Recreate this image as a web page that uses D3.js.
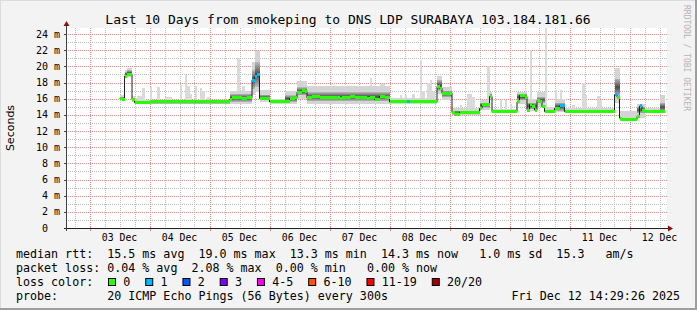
<!DOCTYPE html>
<html lang="en">
<head>
<meta charset="utf-8">
<script src="https://d3js.org/d3.v7.min.js"></script>
<style>
  body { margin: 0; background: #fff; }
  svg { display: block; }
  text { font-family: "DejaVu Sans Mono", monospace; fill: #000; white-space: pre; }
</style>
</head>
<body>
<svg id="chart" width="697" height="310"></svg>
<script>
// ---- data ----
const title = "Last 10 Days from smokeping to DNS LDP SURABAYA 103.184.181.66";
const graphStart = "12-02 15", graphEnd = "12-12 15", dataEnd = "12-12 14";

// median rtt steps (ms) and lost pings of each step
const medTime = ["12-03 12","12-03 13","12-03 14","12-03 15","12-03 17","12-03 18","12-04 00","12-05 08","12-05 09","12-05 11",
  "12-05 13","12-05 15","12-05 17","12-05 18","12-05 19","12-05 20","12-06 00","12-06 06","12-06 08","12-06 10",
  "12-06 11","12-06 13","12-06 14","12-06 15","12-06 17","12-06 20","12-07 04","12-07 05","12-07 08","12-07 10",
  "12-07 15","12-07 16","12-07 18","12-07 20","12-07 22","12-08 00","12-08 07","12-08 08","12-08 19","12-08 20",
  "12-08 21","12-09 01","12-09 02","12-09 04","12-09 12","12-09 13","12-09 16","12-09 17","12-10 03","12-10 04",
  "12-10 06","12-10 07","12-10 08","12-10 09","12-10 10","12-10 11","12-10 12","12-10 13","12-10 14","12-10 18",
  "12-10 20","12-10 22","12-11 18","12-11 19","12-11 20","12-11 21","12-12 03","12-12 04","12-12 05","12-12 06"];
const medVal = [16.0,15.9,18.8,19.0,15.9,15.5,15.6,15.9,16.1,16.2,
  16.0,16.1,18.3,18.7,19.0,16.0,15.6,15.7,16.0,16.1,
  16.8,17.0,16.9,16.1,16.3,16.1,16.0,16.1,16.3,16.1,
  16.0,16.1,15.9,16.3,16.2,15.6,15.6,15.6,17.5,17.3,
  16.7,14.3,14.1,14.3,14.8,15.3,16.3,14.4,15.6,16.4,
  16.2,14.6,15.3,15.0,14.6,15.8,15.6,15.0,14.4,14.8,
  15.1,14.4,16.5,16.2,13.6,13.4,13.8,15.1,14.6,14.4];
const medLoss = [0,0,0,0,0,0,0,0,0,0,
  0,0,1,1,1,0,0,0,0,0,
  0,0,0,0,0,0,0,0,0,0,
  0,0,0,0,0,0,1,0,0,0,
  0,0,0,0,0,0,0,0,0,0,
  0,0,0,0,0,0,0,0,0,0,
  1,0,1,0,0,0,0,1,0,0];

// smoke: lowest ping, dark band low/high, highest ping (ms)
const smokeTime = ["12-03 12","12-03 14","12-03 15","12-03 17","12-03 18","12-05 08","12-05 17","12-05 18","12-05 20","12-06 00",
  "12-06 06","12-06 11","12-06 15","12-08 00","12-08 19","12-08 21","12-09 01","12-09 12","12-09 16","12-09 17",
  "12-10 03","12-10 07","12-10 11","12-10 14","12-10 18","12-10 22","12-11 18","12-11 20","12-12 03","12-12 06","12-12 12"];
const smokeMin = [15.8,18.6,18.7,15.6,15.3,15.3,16.5,16.8,15.6,15.4,15.4,16.0,15.3,15.3,16.6,15.8,14.0,14.6,16.0,14.2,
  15.4,14.5,15.0,14.2,14.3,14.2,15.5,13.2,13.6,14.2,14.2];
const smokeLo = [15.9,18.8,18.9,15.7,15.4,15.6,17.2,17.5,15.8,15.5,15.6,16.4,15.7,15.5,17.0,16.2,14.2,14.9,16.2,14.3,
  15.8,14.7,15.5,14.3,14.5,14.3,16.3,13.3,14.2,14.3,14.4];
const smokeHi = [16.2,19.3,19.5,16.0,15.7,16.6,19.5,20.5,16.5,15.8,16.4,17.4,16.8,15.8,18.3,17.0,14.5,15.5,16.6,14.5,
  16.6,15.5,16.2,14.6,15.5,14.5,18.5,13.6,15.0,14.6,15.5];
const smokeMax = [16.4,19.5,19.8,16.3,15.9,17.0,20.5,21.9,17.1,16.0,17.0,18.2,17.6,16.1,18.8,17.4,14.8,15.8,16.8,14.7,
  16.8,16.0,16.8,15.0,16.0,14.8,19.8,14.5,15.4,14.9,16.5];

// single hours where the slowest ping sticks out (ms)
const spikeTime = ["12-03 19","12-03 20","12-03 21","12-04 00","12-04 03","12-04 06","12-04 07","12-04 08","12-04 12","12-04 14",
  "12-04 15","12-04 16","12-04 18","12-04 20","12-04 21","12-04 23","12-05 11","12-05 13","12-07 16","12-07 20",
  "12-07 21","12-08 04","12-08 06","12-08 09","12-08 12","12-08 13","12-08 15","12-08 16","12-08 17","12-09 04",
  "12-09 07","12-09 08","12-09 09","12-09 15","12-09 20","12-09 22","12-10 00","12-10 08","12-10 14","12-10 18",
  "12-10 20","12-11 01","12-11 05","12-11 06","12-11 11","12-11 12"];
const spikeMax = [16.3,16.3,17.3,17.4,17.5,16.2,16.2,16.2,17.7,18.9,
  17.6,16.6,17.6,17.3,17.0,16.2,21.0,17.6,18.6,17.8,
  17.8,16.5,16.5,16.6,20.8,17.0,17.9,18.3,16.8,15.2,
  16.6,16.6,16.2,20.0,15.8,15.8,15.3,22.0,24.7,17.1,
  17.1,15.2,17.9,16.5,16.3,15.8];

const yTicks = [0,2,4,6,8,10,12,14,16,18,20,22,24];
const lossLabels = ["0","1","2","3","4-5","6-10","11-19","20/20"];
const lossColors = ["#26ff00","#00b8ff","#0059ff","#7e00ff","#ff00ea","#ff5500","#ff0000","#a10000"];
const legendRows = [
  "median rtt:  15.5 ms avg  19.0 ms max  13.3 ms min  14.3 ms now   1.0 ms sd  15.3   am/s",
  "packet loss: 0.04 % avg  2.08 % max  0.00 % min   0.00 % now",
  "loss color:",
  "probe:       20 ICMP Echo Pings (56 Bytes) every 300s"
];
const stamp = "Fri Dec 12 14:29:26 2025";

// ---- drawing ----
const W = 697, H = 310;
const plot = {left: 67, right: 667, top: 28, bottom: 228};
const parse = s => d3.utcParse("%Y-%m-%d %H")("2025-" + s);

const svg = d3.select("#chart");
const x = d3.scaleUtc().domain([parse(graphStart), parse(graphEnd)]).range([plot.left, plot.right]);
const y = d3.scaleLinear().domain([0, 24.75]).range([plot.bottom, plot.top]);
const px = v => Math.round(v) + 0.5;

const defs = svg.append("defs");
// smoke gradient: darker towards the middle of the band
const grad = defs.append("linearGradient").attr("id", "smoke")
  .attr("x1", 0).attr("y1", 0).attr("x2", 0).attr("y2", 1);
[[0, "#b8b8b8"], [0.35, "#6e6e6e"], [0.5, "#4a4a4a"], [0.65, "#6e6e6e"], [1, "#b8b8b8"]]
  .forEach(([o, c]) => grad.append("stop").attr("offset", o).attr("stop-color", c));
// one-pixel dot patterns for the rrdtool style dotted grid
[["gh", 2, 1, "#bdbdbd"], ["gv", 1, 2, "#bdbdbd"], ["rh", 2, 1, "#f08c8c"], ["rv", 1, 2, "#f08c8c"]]
  .forEach(([id, w, h, c]) => defs.append("pattern").attr("id", id).attr("patternUnits", "userSpaceOnUse")
    .attr("width", w).attr("height", h).append("rect").attr("width", 1).attr("height", 1).attr("fill", c));

// canvas + shade border
svg.append("rect").attr("width", W).attr("height", H).attr("fill", "#f3f3f3");
svg.append("path").attr("d", `M0,0H${W}V1H1V${H}H0Z`).attr("fill", "#dcdcdc");
svg.append("path").attr("d", `M${W},${H}H0V${H-2}H${W-2}V0H${W}Z`).attr("fill", "#9e9e9e");
svg.append("rect").attr("x", plot.left).attr("y", plot.top)
  .attr("width", plot.right - plot.left).attr("height", plot.bottom - plot.top).attr("fill", "#fff");

// grid
const gGrid = svg.append("g").attr("shape-rendering", "crispEdges");
const hours6 = d3.utcHour.every(6).range(x.domain()[0], x.domain()[1]);
const days = d3.utcDay.range(x.domain()[0], x.domain()[1]);
const vLine = (cls, data, pat) => gGrid.selectAll("rect." + cls).data(data).join("rect").attr("class", cls)
  .attr("x", d => Math.round(x(d))).attr("width", 1).attr("y", plot.top).attr("height", plot.bottom - plot.top)
  .attr("fill", `url(#${pat})`);
const hLine = (cls, data, pat) => gGrid.selectAll("rect." + cls).data(data).join("rect").attr("class", cls)
  .attr("x", plot.left).attr("width", plot.right - plot.left + 1).attr("y", d => Math.round(y(d))).attr("height", 1)
  .attr("fill", `url(#${pat})`);
vLine("vmin", hours6.filter(d => d.getUTCHours() !== 0), "gv");
hLine("hmin", d3.range(1, 25).filter(v => v % 2), "gh");
vLine("vmaj", days, "rv");
hLine("hmaj", yTicks.filter(v => v > 0), "rh");

// smoke
const segs = (times, endStr) => times.map((t, i) => ({
  i, x0: x(parse(t)), x1: x(parse(i + 1 < times.length ? times[i + 1] : endStr))
}));
const smokeDates = smokeTime.map(parse);
const smokeAt = t => d3.bisectRight(smokeDates, parse(t)) - 1;
const gSmoke = svg.append("g").attr("shape-rendering", "crispEdges");
gSmoke.selectAll("rect.spike").data(spikeTime).join("rect").attr("class", "spike")
  .attr("x", d => x(parse(d))).attr("width", 2.5)
  .attr("y", (d, i) => y(spikeMax[i]))
  .attr("height", (d, i) => y(smokeMax[smokeAt(d)]) - y(spikeMax[i]))
  .attr("fill", "#dadada");
const sm = segs(smokeTime, dataEnd);
gSmoke.selectAll("rect.light").data(sm).join("rect").attr("class", "light")
  .attr("x", d => d.x0).attr("width", d => d.x1 - d.x0)
  .attr("y", d => y(smokeMax[d.i])).attr("height", d => y(smokeMin[d.i]) - y(smokeMax[d.i]))
  .attr("fill", "#d4d4d4");
gSmoke.selectAll("rect.dark").data(sm).join("rect").attr("class", "dark")
  .attr("x", d => d.x0).attr("width", d => d.x1 - d.x0)
  .attr("y", d => y(smokeHi[d.i])).attr("height", d => y(smokeLo[d.i]) - y(smokeHi[d.i]))
  .attr("fill", "url(#smoke)");

// median: thin black step line + loss coloured band
const ms = segs(medTime, dataEnd);
const linePts = ms.flatMap(d => [[d.x0, y(medVal[d.i])], [d.x1, y(medVal[d.i])]]);
svg.append("path").attr("d", d3.line()(linePts)).attr("fill", "none")
  .attr("stroke", "#202020").attr("stroke-width", 1);
svg.append("g").attr("shape-rendering", "crispEdges").selectAll("rect").data(ms).join("rect")
  .attr("x", d => d.x0).attr("width", d => d.x1 - d.x0)
  .attr("y", d => y(medVal[d.i]) - 1.5).attr("height", 3)
  .attr("fill", d => lossColors[medLoss[d.i]]);

// axes
const gAx = svg.append("g").attr("shape-rendering", "crispEdges");
gAx.selectAll("line.ty").data(yTicks).join("line").attr("class", "ty")
  .attr("x1", plot.left - 3).attr("x2", plot.left).attr("y1", d => px(y(d))).attr("y2", d => px(y(d)))
  .attr("stroke", "#404040");
gAx.selectAll("line.tx").data(days).join("line").attr("class", "tx")
  .attr("x1", d => px(x(d))).attr("x2", d => px(x(d))).attr("y1", plot.bottom - 2).attr("y2", plot.bottom + 3)
  .attr("stroke", "#ee8888");
gAx.append("line").attr("x1", plot.left - 3).attr("x2", plot.right + 2)
  .attr("y1", plot.bottom + 0.5).attr("y2", plot.bottom + 0.5).attr("stroke", "#202020");
gAx.append("line").attr("x1", plot.left - 0.5).attr("x2", plot.left - 0.5)
  .attr("y1", plot.bottom + 3).attr("y2", plot.top - 3).attr("stroke", "#404040");
svg.append("path").attr("fill", "#8b1010")
  .attr("d", `M${plot.left - 3.5},${plot.top - 2}L${plot.left - 0.5},${plot.top - 7}L${plot.left + 2.5},${plot.top - 2}Z`);
svg.append("path").attr("fill", "#8b1010")
  .attr("d", `M${plot.right + 1},${plot.bottom - 2.5}L${plot.right + 6},${plot.bottom + 0.5}L${plot.right + 1},${plot.bottom + 3.5}Z`);

svg.selectAll("text.ylab").data(yTicks).join("text").attr("class", "ylab")
  .attr("x", 60).attr("y", d => y(d) + 3.6).attr("text-anchor", "end")
  .style("font-size", "10px").text(d => d === 0 ? "0  " : d + " m");
svg.selectAll("text.xlab").data(days).join("text").attr("class", "xlab")
  .attr("x", d => x(d3.utcHour.offset(d, 12))).attr("y", 241).attr("text-anchor", "middle")
  .style("font-size", "9.8px").text(d => d3.utcFormat("%d %b")(d));

svg.append("text").attr("transform", `translate(13.5,${(plot.top + plot.bottom) / 2}) rotate(-90)`)
  .attr("text-anchor", "middle").style("font-family", "'DejaVu Sans', sans-serif").style("font-size", "11px")
  .text("Seconds");
svg.append("text").attr("x", 348).attr("y", 24).attr("text-anchor", "middle")
  .style("font-size", "13px").text(title);
svg.append("text").attr("transform", "translate(684,5) rotate(90)")
  .style("font-size", "8px").style("fill", "#b4b4b4").text("RRDTOOL / TOBI OETIKER");

// legend
const legend = svg.append("g").style("font-size", "11.66px");
legendRows.forEach((r, i) => legend.append("text").attr("x", 16).attr("y", 258 + i * 14).text(r));
legend.append("text").attr("x", 680).attr("y", 300).attr("text-anchor", "end").text(stamp);
let lx = 108;
lossLabels.forEach((lab, i) => {
  legend.append("rect").attr("x", lx + 0.5).attr("y", 278.5).attr("width", 7).attr("height", 7)
    .attr("fill", lossColors[i]).attr("stroke", "#000");
  const t = legend.append("text").attr("x", lx + 15.3).attr("y", 286).text(lab);
  lx += 30.2 + t.node().getComputedTextLength();
});
</script>
</body>
</html>
